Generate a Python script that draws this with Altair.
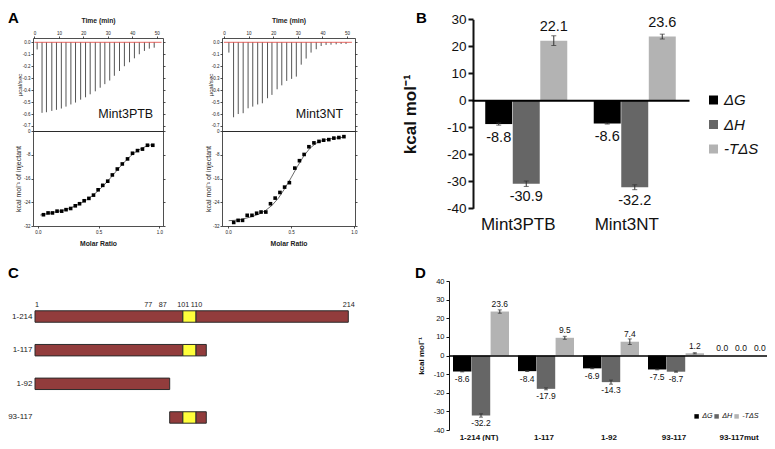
import altair as alt
import pandas as pd

W, H = 759, 433
OX, OY = 8, 8
FONT = "Liberation Sans"
MINUS = "replace(datum.label, '\u2212', '-')"


def vx(x):
    return x - OX


def vy(y):
    return y - OY


# ---------------- data: panel A (ITC) ----------------
ITC_NAMES = ["Mint3PTB", "Mint3NT"]
PTB_INJ_TIME = [1.1, 3.1, 4.9, 7.1, 9.0, 11.0, 12.9, 14.9, 16.8, 18.9, 20.9, 22.8, 24.9,
                26.9, 28.8, 30.8, 32.7, 34.8, 36.8, 38.9, 40.9, 42.9, 45.0, 47.0, 49.0]
PTB_INJ_PEAK = [-0.06, -0.59, -0.585, -0.574, -0.565, -0.554, -0.538, -0.52, -0.504, -0.48,
                -0.46, -0.435, -0.41, -0.38, -0.35, -0.32, -0.28, -0.24, -0.20, -0.167,
                -0.134, -0.10, -0.072, -0.053, -0.045]
NT_INJ_TIME = [2.0, 3.9, 5.8, 7.8, 9.8, 11.7, 13.7, 15.6, 17.7, 19.5, 21.6, 23.5, 25.5,
               27.5, 29.4, 31.4, 33.4, 35.4, 37.5, 39.5, 41.5, 43.5, 45.6, 47.6, 49.6]
NT_INJ_PEAK = [-0.086, -0.627, -0.60, -0.593, -0.552, -0.538, -0.52, -0.51, -0.468, -0.44,
               -0.393, -0.36, -0.323, -0.306, -0.287, -0.187, -0.136, -0.086, -0.058,
               -0.031, -0.022, -0.02, -0.017, -0.014, -0.014]
BASELINE_TIME = [0.0, 52.0]

PTB_RATIO = [0.046, 0.084, 0.12, 0.158, 0.196, 0.232, 0.27, 0.308, 0.343, 0.381, 0.42, 0.458,
             0.496, 0.534, 0.575, 0.613, 0.654, 0.695, 0.738, 0.779, 0.82, 0.861, 0.902, 0.946]
PTB_HEAT = [-28.2, -27.6, -27.6, -27.0, -27.0, -26.5, -26.1, -25.2, -24.5, -23.5, -22.7, -21.6,
            -19.8, -18.3, -16.9, -14.8, -12.8, -11.1, -9.4, -7.5, -6.6, -6.1, -4.8, -4.8]
PTB_FIT_RATIO = [0.02, 0.046, 0.1, 0.15, 0.2, 0.25, 0.3, 0.35, 0.4, 0.45, 0.5, 0.55, 0.6,
                 0.65, 0.7, 0.75, 0.8, 0.85, 0.9, 0.946]
PTB_FIT_HEAT = [-28.3, -28.1, -27.7, -27.2, -26.8, -26.2, -25.4, -24.4, -23.2, -21.8, -20.0,
                -18.0, -15.7, -13.3, -11.0, -8.9, -7.2, -5.9, -5.0, -4.5]

NT_RATIO = [0.045, 0.08, 0.115, 0.152, 0.19, 0.227, 0.262, 0.3, 0.337, 0.374, 0.412, 0.449,
            0.487, 0.53, 0.567, 0.604, 0.642, 0.682, 0.722, 0.759, 0.8, 0.84, 0.88, 0.92]
NT_HEAT = [-30.8, -30.1, -30.1, -28.4, -28.4, -27.7, -27.3, -27.3, -24.5, -22.6, -20.7, -18.9,
           -17.4, -12.5, -10.0, -7.9, -5.3, -4.0, -3.5, -3.1, -2.9, -2.4, -2.2, -1.9]
NT_FIT_RATIO = [0.005, 0.05, 0.1, 0.15, 0.2, 0.25, 0.3, 0.35, 0.4, 0.45, 0.5, 0.55, 0.6,
                0.65, 0.7, 0.75, 0.8, 0.85, 0.92]
NT_FIT_HEAT = [-30.2, -30.1, -29.8, -29.3, -28.7, -27.9, -26.7, -25.0, -22.6, -19.4, -15.8,
               -12.0, -8.5, -5.8, -4.1, -3.2, -2.7, -2.4, -2.1]

U_TICKS = [0.0, -0.1, -0.2, -0.3, -0.4, -0.5, -0.6, -0.7]
H_TICKS = [0, -8, -16, -24, -32]
T_TICKS = [0, 10, 20, 30, 40, 50]
R_TICKS = [0.0, 0.5, 1.0]

# ---------------- data: panels B and D ----------------
TERMS = ["\u0394G", "\u0394H", "-T\u0394S"]
TERM_COLORS = ["#000000", "#666666", "#b3b3b3"]

B_CONSTRUCTS = ["Mint3PTB", "Mint3NT"]
B_DG = [-8.8, -8.6]
B_DH = [-30.9, -32.2]
B_TDS = [22.1, 23.6]
B_DG_ERR = [0.4, 0.2]
B_DH_ERR = [1.0, 0.9]
B_TDS_ERR = [1.8, 0.9]

D_CONSTRUCTS = ["1-214 (NT)", "1-117", "1-92", "93-117", "93-117mut"]
D_DG = [-8.6, -8.4, -6.9, -7.5, 0.0]
D_DH = [-32.2, -17.9, -14.3, -8.7, 0.0]
D_TDS = [23.6, 9.5, 7.4, 1.2, 0.0]
D_DG_ERR = [0.2, 0.2, 0.2, 0.2, 0.0]
D_DH_ERR = [0.9, 0.5, 1.1, 0.3, 0.0]
D_TDS_ERR = [0.9, 0.8, 1.5, 0.3, 0.0]

# ---------------- data: panel C (constructs) ----------------
C_CONSTRUCTS = ["1-214", "1-117", "1-92", "93-117"]
SEG_CONSTRUCT = ["1-214", "1-214", "1-214", "1-117", "1-117", "1-117", "1-92",
                 "93-117", "93-117", "93-117"]
SEG_START = [0, 101, 110, 0, 101, 110, 0, 92, 101, 110]
SEG_END = [101, 110, 214, 101, 110, 117, 92, 101, 110, 117]
SEG_KIND = ["region", "motif", "region", "region", "motif", "region", "region",
            "region", "motif", "region"]
C_TICKS = [1, 77, 87, 101, 110, 214]


def ax_common(fs, color="#222222", dw=0.8):
    return dict(domainColor=color, domainWidth=dw, tickColor=color, tickWidth=dw,
                labelFontSize=fs, labelColor=color, labelFont=FONT, titleFont=FONT,
                titleColor=color, grid=False, labelOverlap=False, labelFlush=False)


# ---------------- panel A ----------------
A_TOP, A_MID, A_BOT = 38, 131, 226
A_LAYOUT = [
    dict(x0=33, x1=163, tdom=[-0.6, 52.6], mdom=[-0.04, 1.03], ut_dx=-13.5, lt_dx=-14.5,
         name_t=48.6),
    dict(x0=222, x1=355, tdom=[-0.8, 53.25], mdom=[-0.048, 1.008], ut_dx=-11.5, lt_dx=-14,
         name_t=48.4),
]
NAME_LEVEL = -0.6


def itc_layers(name, inj_t, inj_p, ratio, heat, fit_r, fit_h, L):
    tsc = alt.Scale(domain=L["tdom"], range=[vx(L["x0"]), vx(L["x1"])], nice=False, zero=False)
    usc = alt.Scale(domain=[-0.742, 0.036], range=[vy(A_MID), vy(A_TOP)], nice=False, zero=False)
    msc = alt.Scale(domain=L["mdom"], range=[vx(L["x0"]), vx(L["x1"])], nice=False, zero=False)
    hsc = alt.Scale(domain=[-32, 0], range=[vy(A_BOT), vy(A_MID)], nice=False, zero=False)
    axA = ax_common(4.5)

    spikes = alt.Chart(pd.DataFrame({"t": inj_t, "p": inj_p})).transform_calculate(
        b="0").mark_rule(color="#555555", strokeWidth=1).encode(
        x=alt.X("t:Q", scale=tsc, axis=alt.Axis(
            orient="top", offset=-vy(A_TOP), values=T_TICKS, format="d", tickSize=2,
            labelPadding=1, title="Time (min)", titleFontSize=6.8, titleFontWeight="bold",
            titleY=-(A_TOP - 20), titleBaseline="middle", **axA)),
        y=alt.Y("p:Q", scale=usc, axis=alt.Axis(
            orient="left", offset=-vx(L["x0"]), values=U_TICKS, format=".1f",
            labelExpr=MINUS, tickSize=2, labelPadding=1, title="\u00b5cal/sec",
            titleFontSize=6.2, titleFontWeight="normal", titleX=L["ut_dx"],
            titleBaseline="middle", **axA)),
        y2="b:Q",
    )
    base = alt.Chart(pd.DataFrame({"t": BASELINE_TIME, "v": [0.0, 0.0]})).mark_line(
        color="#e0403a", strokeWidth=0.8).encode(
        x=alt.X("t:Q", scale=tsc, axis=alt.Axis(
            orient="bottom", offset=vy(A_MID) - H, labels=False, ticks=False, title=None, **axA)),
        y=alt.Y("v:Q", scale=usc, axis=alt.Axis(
            orient="right", offset=vx(L["x1"]) - W, values=U_TICKS, labels=False, tickSize=2,
            title=None, **axA)),
    )
    label = alt.Chart(pd.DataFrame({"n": [name], "t": [L["name_t"]], "u": [NAME_LEVEL]})).mark_text(
        align="right", baseline="middle", fontSize=12.5, font=FONT, color="#111111").encode(
        x=alt.X("t:Q", scale=tsc, axis=None),
        y=alt.Y("u:Q", scale=usc, axis=None),
        text="n:N",
    )
    fit = alt.Chart(pd.DataFrame({"r": fit_r, "h": fit_h})).mark_line(
        color="#444444", strokeWidth=0.8).encode(
        x=alt.X("r:Q", scale=msc, axis=alt.Axis(
            orient="top", offset=-vy(A_MID), labels=False, ticks=False, title=None, **axA)),
        y=alt.Y("h:Q", scale=hsc, axis=alt.Axis(
            orient="right", offset=vx(L["x1"]) - W, values=H_TICKS, labels=False, tickSize=2,
            title=None, **axA)),
    )
    pts = alt.Chart(pd.DataFrame({"r": ratio, "h": heat})).mark_square(
        size=13, color="black", opacity=1).encode(
        x=alt.X("r:Q", scale=msc, axis=alt.Axis(
            orient="bottom", offset=vy(A_BOT) - H, values=R_TICKS, format=".1f", tickSize=2,
            labelPadding=1.5, title="Molar Ratio", titleFontSize=6.8, titleFontWeight="bold",
            titleY=243.5 - A_BOT, titleBaseline="middle", **axA)),
        y=alt.Y("h:Q", scale=hsc, axis=alt.Axis(
            orient="left", offset=-vx(L["x0"]), values=H_TICKS, format="d", labelExpr=MINUS,
            tickSize=2, labelPadding=1, title="kcal mol\u207b\u00b9 of injectant",
            titleFontSize=7, titleFontWeight="normal", titleX=L["lt_dx"],
            titleBaseline="middle", **axA)),
    )
    return [spikes, base, label, fit, pts]


# ---------------- panels B and D ----------------
def long_df(cats, series, errs):
    rows = []
    for term, vals, es in zip(TERMS, series, errs):
        for c, v, e in zip(cats, vals, es):
            rows.append({"construct": c, "term": term, "value": v, "err": e,
                         "label": f"{v:.1f}"})
    return pd.DataFrame(rows)


B_LAYOUT = dict(x0=472, x1=689, ybot=208.3, ytop=19.3, ydom=[-40, 30],
                yticks=list(range(-40, 31, 10)), axis_x=473, pi=0.244, tick_font=13.5,
                tick_size=5, dom_w=2, title_font=17, title_dx=410 - 473, cat_font=17,
                cat_weight="normal", cat_pad=8, cat_off=-8, val_font=14.5, val_dy=13.5, cap=5,
                zero_w=2,
                legend=dict(legendX=vx(706), legendY=vy(100) - 7.5, direction="vertical",
                            symbolSize=81, labelFontSize=15, labelOffset=3, rowPadding=8.5,
                            columns=1))
D_LAYOUT = dict(x0=448.5, x1=773.5, ybot=430, ytop=281, ydom=[-40, 40],
                yticks=list(range(-40, 41, 10)), axis_x=449, pi=0.138, tick_font=7.5,
                tick_size=3, dom_w=1, title_font=8, title_dx=421.7 - 449, cat_font=8,
                cat_weight="bold", cat_pad=3, cat_off=-2, val_font=8.5, val_dy=7.5, cap=4,
                zero_w=1.5,
                legend=dict(legendX=vx(693), legendY=vy(416.7) - 4, direction="horizontal",
                            symbolSize=20, labelFontSize=7.2, labelOffset=2, columnPadding=0,
                            columns=3, gridAlign="each"))


def grouped_layers(df, cats, L):
    xs = alt.Scale(type="band", domain=cats, range=[vx(L["x0"]), vx(L["x1"])],
                   paddingInner=L["pi"], paddingOuter=L["pi"] / 2)
    os_ = alt.Scale(type="band", domain=TERMS, paddingInner=0.02, paddingOuter=0)
    ys = alt.Scale(domain=L["ydom"], range=[vy(L["ybot"]), vy(L["ytop"])], nice=False)
    y0 = L["ybot"] + (L["ytop"] - L["ybot"]) * (0 - L["ydom"][0]) / (L["ydom"][1] - L["ydom"][0])
    leg = alt.Legend(orient="none", title=None, symbolType="square", symbolStrokeWidth=0,
                     labelFontStyle="italic", labelFont=FONT, labelColor="#111111", padding=0,
                     **L["legend"])
    base = alt.Chart(df)
    bars = base.mark_bar().encode(
        x=alt.X("construct:N", scale=xs, axis=alt.Axis(
            orient="bottom", offset=vy(y0) - H, labels=False, ticks=False, title=None,
            domainColor="black", domainWidth=L["zero_w"], zindex=1, grid=False)),
        xOffset=alt.XOffset("term:N", scale=os_),
        y=alt.Y("value:Q", scale=ys, stack=None, axis=alt.Axis(
            orient="left", offset=-vx(L["axis_x"]), values=L["yticks"], format="d",
            labelExpr=MINUS, tickSize=L["tick_size"], labelPadding=2,
            title="kcal mol\u207b\u00b9", titleFontSize=L["title_font"], titleFontWeight="bold",
            titleX=L["title_dx"], titleBaseline="middle",
            **ax_common(L["tick_font"], "#111111", L["dom_w"]))),
        color=alt.Color("term:N", scale=alt.Scale(domain=TERMS, range=TERM_COLORS), legend=leg),
    )
    err = base.transform_filter("datum.err > 0").transform_calculate(
        lo="datum.value - datum.err", hi="datum.value + datum.err")
    erule = err.mark_rule(color="#333333", strokeWidth=1).encode(
        x=alt.X("construct:N", scale=xs, axis=alt.Axis(
            orient="bottom", offset=vy(L["ybot"]) - H, domain=False, ticks=False, title=None,
            labelPadding=L["cat_pad"], labelFontSize=L["cat_font"],
            labelFontWeight=L["cat_weight"], labelColor="#111111", labelFont=FONT,
            labelOffset=L["cat_off"], labelAngle=0, grid=False)),
        xOffset=alt.XOffset("term:N", scale=os_),
        y=alt.Y("lo:Q", scale=ys, axis=None),
        y2="hi:Q",
    )
    caps = []
    for f in ["lo", "hi"]:
        caps.append(err.mark_tick(color="#333333", thickness=1, size=L["cap"]).encode(
            x=alt.X("construct:N", scale=xs, axis=None),
            xOffset=alt.XOffset("term:N", scale=os_),
            y=alt.Y(f + ":Q", scale=ys, axis=None),
        ))
    labs = []
    for cond, dy in [("datum.value >= 0", -L["val_dy"]), ("datum.value < 0", L["val_dy"])]:
        labs.append(base.transform_filter(cond).mark_text(
            dy=dy, baseline="middle", fontSize=L["val_font"], font=FONT, color="#111111").encode(
            x=alt.X("construct:N", scale=xs, axis=None),
            xOffset=alt.XOffset("term:N", scale=os_),
            y=alt.Y("value:Q", scale=ys, axis=None),
            text="label:N",
        ))
    return [bars, erule] + caps + labs


# ---------------- panel C ----------------
def construct_layers():
    df = pd.DataFrame({"construct": SEG_CONSTRUCT, "start": SEG_START, "end": SEG_END,
                       "kind": SEG_KIND})
    csx = alt.Scale(domain=[0, 214], range=[vx(35), vx(348.3)], nice=False, zero=False)
    csy = alt.Scale(domain=C_CONSTRUCTS, range=[vy(299.7), vy(434.3)], paddingInner=0.66,
                    paddingOuter=0.33)
    bars = alt.Chart(df).mark_bar(stroke="#2b2b2b", strokeWidth=1).encode(
        x=alt.X("start:Q", scale=csx, axis=alt.Axis(
            orient="top", offset=-vy(309), values=C_TICKS, format="d", domain=False,
            ticks=False, labelPadding=1, title=None, **ax_common(7.2))),
        x2="end:Q",
        y=alt.Y("construct:N", scale=csy, axis=alt.Axis(
            orient="left", offset=-vx(35), domain=False, ticks=False, labelPadding=3,
            title=None, **ax_common(8))),
        color=alt.Color("kind:N", scale=alt.Scale(domain=["region", "motif"],
                                                  range=["#923c3c", "#ffff3b"]), legend=None),
    )
    return [bars]


# ---------------- panel letters ----------------
def letter(txt, xr, yr, base="alphabetic"):
    return alt.Chart(pd.DataFrame({"t": [txt]})).mark_text(
        align="left", baseline=base, fontSize=15, fontWeight="bold", font=FONT,
        color="black").encode(x=alt.value(vx(xr)), y=alt.value(vy(yr)), text="t:N")


layers = []
layers += itc_layers(ITC_NAMES[0], PTB_INJ_TIME, PTB_INJ_PEAK, PTB_RATIO, PTB_HEAT,
                     PTB_FIT_RATIO, PTB_FIT_HEAT, A_LAYOUT[0])
layers += itc_layers(ITC_NAMES[1], NT_INJ_TIME, NT_INJ_PEAK, NT_RATIO, NT_HEAT,
                     NT_FIT_RATIO, NT_FIT_HEAT, A_LAYOUT[1])
layers += grouped_layers(long_df(B_CONSTRUCTS, [B_DG, B_DH, B_TDS],
                                 [B_DG_ERR, B_DH_ERR, B_TDS_ERR]), B_CONSTRUCTS, B_LAYOUT)
layers += construct_layers()
layers += grouped_layers(long_df(D_CONSTRUCTS, [D_DG, D_DH, D_TDS],
                                 [D_DG_ERR, D_DH_ERR, D_TDS_ERR]), D_CONSTRUCTS, D_LAYOUT)
layers += [letter("A", 8, 10.5, "top"), letter("B", 416, 10.5, "top"), letter("C", 8, 278),
           letter("D", 415, 278)]

chart = alt.layer(*layers).resolve_scale(
    x="independent", y="independent", color="independent", xOffset="independent"
).resolve_axis(x="independent", y="independent").resolve_legend(
    color="independent"
).properties(
    width=W, height=H, autosize=alt.AutoSizeParams(type="none"), padding=0
).configure(font=FONT).configure_view(stroke=None)

chart.save("out.html", embed_options={"renderer": "svg", "actions": False})
